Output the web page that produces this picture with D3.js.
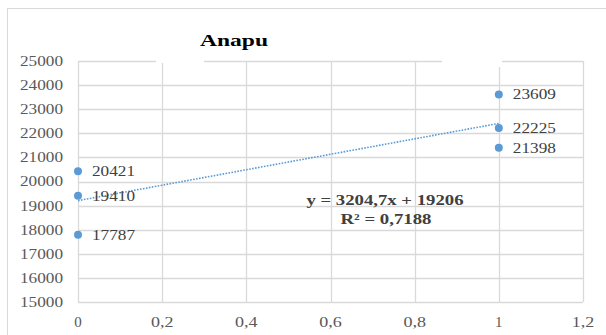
<!DOCTYPE html>
<html><head><meta charset="utf-8">
<script src="https://cdn.jsdelivr.net/npm/d3@7"></script>
<style>html,body{margin:0;padding:0;background:#fff;} svg text{font-family:"Liberation Serif","DejaVu Serif",serif;}</style>
</head><body>
<script>
const title = "Anapu";
const xValues = [0, 0, 0, 1, 1, 1];
const yValues = [20421, 19410, 17787, 23609, 22225, 21398];
const xTicks = [0, 0.2, 0.4, 0.6, 0.8, 1, 1.2];
const yTicks = [15000, 16000, 17000, 18000, 19000, 20000, 21000, 22000, 23000, 24000, 25000];
const trendSlope = 3204.7;
const trendIntercept = 19206;
const trendX = [0, 1];
const equationLines = ["y = 3204,7x + 19206", "R² = 0,7188"];

const W = 606, H = 335;
const svg = d3.select("body").append("svg").attr("width", W).attr("height", H);
svg.append("rect").attr("width", W).attr("height", H).attr("fill", "#fff");
svg.append("rect").attr("x", 7.5).attr("y", 8.5).attr("width", 620).attr("height", 340)
  .attr("fill", "none").attr("stroke", "#d9d9d9").attr("stroke-width", 1);

const x = d3.scaleLinear().domain([0, 1.2]).range([78, 583]);
const y = d3.scaleLinear().domain([15000, 25000]).range([302, 61]);
const fmt = d => String(d).replace(".", ",");
const digitW = 8.6;

const grid = svg.append("g");
grid.selectAll("line.h").data(yTicks).join("line")
  .attr("x1", x(0)).attr("x2", x(1.2))
  .attr("y1", d => Math.round(y(d)) + 0.5).attr("y2", d => Math.round(y(d)) + 0.5)
  .attr("stroke", "#d9d9d9").attr("stroke-width", 1.3);
grid.selectAll("line.v").data(xTicks).join("line")
  .attr("x1", d => Math.round(x(d)) + 0.5).attr("x2", d => Math.round(x(d)) + 0.5)
  .attr("y1", y(25000)).attr("y2", y(15000))
  .attr("stroke", "#d9d9d9").attr("stroke-width", 1.3);
svg.append("rect").attr("x", 156).attr("y", 55).attr("width", 48).attr("height", 8).attr("fill", "#fff");
svg.append("rect").attr("x", 442).attr("y", 55).attr("width", 60).attr("height", 12).attr("fill", "#fff");

svg.append("g").selectAll("text").data(yTicks).join("text")
  .attr("x", 63).attr("y", d => y(d)).attr("dy", "0.35em")
  .attr("text-anchor", "end").attr("font-size", 14)
  .attr("fill", "#595959")
  .attr("textLength", d => String(d).length * digitW).attr("lengthAdjust", "spacingAndGlyphs")
  .text(d => d);
svg.append("g").selectAll("text").data(xTicks).join("text")
  .attr("x", d => x(d)).attr("y", 327)
  .attr("text-anchor", "middle").attr("font-size", 14)
  .attr("fill", "#595959")
  .attr("textLength", d => fmt(d).length * 7.5).attr("lengthAdjust", "spacingAndGlyphs")
  .text(d => fmt(d));

svg.append("text").attr("x", 234).attr("y", 46).attr("text-anchor", "middle")
  .attr("font-size", 17).attr("font-weight", "bold")
  .attr("fill", "#000").attr("textLength", 68).attr("lengthAdjust", "spacingAndGlyphs")
  .text(title);

const line = d3.line().x(d => x(d)).y(d => y(trendSlope * d + trendIntercept));
svg.append("path").attr("d", line(trendX)).attr("fill", "none")
  .attr("stroke", "#5b9bd5").attr("stroke-width", 1.6).attr("stroke-dasharray", "1.6,1.4");

const pts = xValues.map((v, i) => ({x: v, y: yValues[i]}));
svg.append("g").selectAll("circle").data(pts).join("circle")
  .attr("cx", d => x(d.x)).attr("cy", d => y(d.y)).attr("r", 4).attr("fill", "#5b9bd5");
svg.append("g").selectAll("text").data(pts).join("text")
  .attr("x", d => x(d.x) + 14).attr("y", d => y(d.y)).attr("dy", "0.35em")
  .attr("font-size", 14).attr("fill", "#404040")
  .attr("textLength", 43).attr("lengthAdjust", "spacingAndGlyphs")
  .text(d => d.y);

const eqPos = [{cx: 385, cy: 200, w: 157}, {cx: 386, cy: 219, w: 91}];
svg.append("g").selectAll("text").data(equationLines).join("text")
  .attr("x", (d, i) => eqPos[i].cx).attr("y", (d, i) => eqPos[i].cy).attr("dy", "0.35em")
  .attr("text-anchor", "middle").attr("font-size", 14)
  .attr("font-weight", "bold").attr("fill", "#404040")
  .attr("textLength", (d, i) => eqPos[i].w).attr("lengthAdjust", "spacingAndGlyphs")
  .text(d => d);
</script>
</body></html>
